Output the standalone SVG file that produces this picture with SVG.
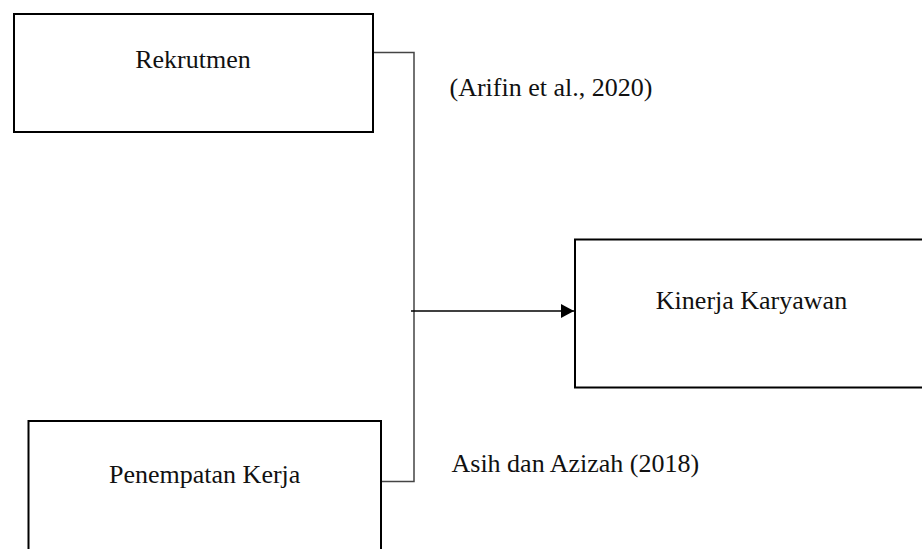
<svg xmlns="http://www.w3.org/2000/svg" width="922" height="549" viewBox="0 0 922 549">
<style>
.box{fill:#fff;stroke:#000;stroke-width:2}
.t{font-family:"Liberation Serif","Times New Roman",serif;font-size:26px;fill:#111}
.conn{fill:none;stroke:#444;stroke-width:1.5}
</style>
<defs>
<marker id="arr" markerWidth="14" markerHeight="14" refX="13" refY="7" orient="auto" markerUnits="userSpaceOnUse">
<path d="M0,0 L13,7 L0,14 Z" fill="#000"/>
</marker>
</defs>
<rect width="922" height="549" fill="#fff"/>
<g id="connectors">
<polyline class="conn" points="373,52.5 414,52.5 414,481.5 381,481.5"/>
<line x1="411" y1="311" x2="574" y2="311" stroke="#000" stroke-width="1.5" marker-end="url(#arr)"/>
</g>
<g id="rekrutmen">
<rect class="box" x="14" y="14" width="359" height="118"/>
<text class="t" x="193" y="68" text-anchor="middle">Rekrutmen</text>
</g>
<g id="kinerja">
<rect class="box" x="575" y="239.5" width="360" height="148"/>
<text class="t" x="751.5" y="309" text-anchor="middle">Kinerja Karyawan</text>
</g>
<g id="penempatan">
<rect class="box" x="28.5" y="421" width="352.5" height="140"/>
<text class="t" x="204.7" y="482.5" text-anchor="middle">Penempatan Kerja</text>
</g>
<g id="labels">
<text class="t" x="449.5" y="96">(Arifin et al., 2020)</text>
<text class="t" x="451.5" y="471.5">Asih dan Azizah (2018)</text>
</g>
</svg>
